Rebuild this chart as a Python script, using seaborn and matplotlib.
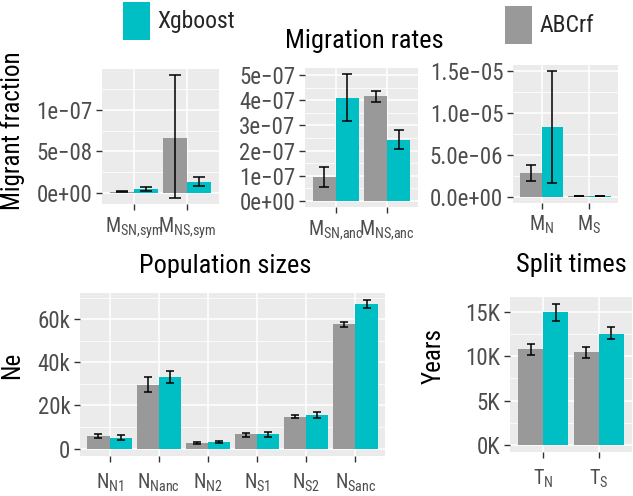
import numpy as np
import pandas as pd
import matplotlib
matplotlib.use('Agg')
import matplotlib.pyplot as plt
import seaborn as sns
from matplotlib import font_manager
from matplotlib.ticker import AutoMinorLocator, FixedLocator, FixedFormatter

sns.set_theme(style='darkgrid')

# pick a narrow sans if one is installed
fonts = font_manager.fontManager.ttflist
font_stretch = 'normal'
font_name = 'Liberation Sans'
if any(f.name == 'Liberation Sans Narrow' for f in fonts):
    font_name = 'Liberation Sans Narrow'
elif any(f.name == 'Roboto Condensed' for f in fonts):
    font_name = 'Roboto Condensed'
elif any(f.name == 'DejaVu Sans' and f.stretch == 'condensed' for f in fonts):
    font_name, font_stretch = 'DejaVu Sans', 'condensed'
elif any(f.name == 'Roboto' and f.stretch == 'condensed' for f in fonts):
    font_name, font_stretch = 'Roboto', 'condensed'
plt.rcParams['font.family'] = [font_name, 'DejaVu Sans']
plt.rcParams['font.stretch'] = font_stretch
plt.rcParams['mathtext.default'] = 'regular'

methods = ['ABCrf', 'Xgboost']
colors = {'ABCrf': '#999999', 'Xgboost': '#00BFC4'}

# --- Migration rates, symmetric ---
sym_params = [r'$M_{SN{,}sym}$', r'$M_{NS{,}sym}$']
sym_abc = [1.0e-9, 6.65e-8]
sym_abc_lo = [0.5e-9, -0.6e-8]
sym_abc_hi = [2.0e-9, 1.42e-7]
sym_xgb = [0.5e-8, 1.35e-8]
sym_xgb_lo = [0.2e-8, 0.8e-8]
sym_xgb_hi = [0.7e-8, 1.9e-8]
sym_ticks = [0, 5e-8, 1e-7]
sym_ticklabels = ['0e+00', '5e\u221208', '1e\u221207']

# --- Migration rates, ancestral ---
anc_params = [r'$M_{SN{,}anc}$', r'$M_{NS{,}anc}$']
anc_abc = [0.93e-7, 4.16e-7]
anc_abc_lo = [0.53e-7, 3.95e-7]
anc_abc_hi = [1.33e-7, 4.37e-7]
anc_xgb = [4.1e-7, 2.44e-7]
anc_xgb_lo = [3.17e-7, 2.08e-7]
anc_xgb_hi = [5.04e-7, 2.8e-7]
anc_ticks = [0, 1e-7, 2e-7, 3e-7, 4e-7, 5e-7]
anc_ticklabels = ['0e+00', '1e\u221207', '2e\u221207', '3e\u221207', '4e\u221207', '5e\u221207']

# --- Migration rates, current ---
cur_params = [r'$M_N$', r'$M_S$']
cur_abc = [2.78e-6, 0.06e-6]
cur_abc_lo = [1.83e-6, 0.04e-6]
cur_abc_hi = [3.73e-6, 0.08e-6]
cur_xgb = [8.33e-6, 0.05e-6]
cur_xgb_lo = [1.67e-6, 0.03e-6]
cur_xgb_hi = [14.96e-6, 0.07e-6]
cur_ticks = [0, 5e-6, 1e-5, 1.5e-5]
cur_ticklabels = ['0.0e+00', '5.0e\u221206', '1.0e\u221205', '1.5e\u221205']

# --- Population sizes ---
pop_params = [r'$N_{N1}$', r'$N_{Nanc}$', r'$N_{N2}$', r'$N_{S1}$', r'$N_{S2}$', r'$N_{Sanc}$']
pop_abc = [5800, 29500, 2700, 6600, 14800, 57700]
pop_abc_lo = [4700, 26100, 2200, 5500, 14100, 56600]
pop_abc_hi = [7000, 33100, 3100, 7300, 15800, 58800]
pop_xgb = [5000, 33400, 3100, 6600, 15800, 67000]
pop_xgb_lo = [3900, 30300, 2500, 5300, 14400, 65200]
pop_xgb_hi = [6100, 36200, 3750, 7700, 17000, 68750]
pop_ticks = [0, 20000, 40000, 60000]
pop_ticklabels = ['0', '20k', '40k', '60k']

# --- Split times ---
split_params = [r'$T_N$', r'$T_S$']
split_abc = [10800, 10450]
split_abc_lo = [10200, 9850]
split_abc_hi = [11400, 11000]
split_xgb = [15000, 12570]
split_xgb_lo = [14000, 11900]
split_xgb_hi = [15900, 13300]
split_ticks = [0, 5000, 10000, 15000]
split_ticklabels = ['0K', '5K', '10K', '15K']

W, H = 633, 496
fig = plt.figure(figsize=(W / 100, H / 100), dpi=100)


def px_axes(x0, y0, x1, y1):
    return fig.add_axes([x0 / W, 1 - y1 / H, (x1 - x0) / W, (y1 - y0) / H])


def panel(ax, params, abc, abc_lo, abc_hi, xgb, xgb_lo, xgb_hi, ticks, ticklabels, cap, xpad=4):
    df = pd.DataFrame({
        'param': params * 2,
        'method': ['ABCrf'] * len(params) + ['Xgboost'] * len(params),
        'value': list(abc) + list(xgb),
    })
    sns.barplot(data=df, x='param', y='value', hue='method', hue_order=methods,
                palette=colors, width=0.9, errorbar=None, saturation=1,
                linewidth=0, legend=False, ax=ax)
    errs = [(abc, abc_lo, abc_hi), (xgb, xgb_lo, xgb_hi)]
    for cont, (v, lo, hi) in zip(ax.containers, errs):
        xs = [p.get_x() + p.get_width() / 2 for p in cont]
        v = np.array(v); lo = np.array(lo); hi = np.array(hi)
        ax.errorbar(xs, v, yerr=[v - lo, hi - v], fmt='none', ecolor='black',
                    elinewidth=1.1, capsize=cap, capthick=1.1, zorder=5)
    lo_all = min(0, min(abc_lo), min(xgb_lo))
    hi_all = max(max(abc_hi), max(xgb_hi))
    pad = (hi_all - lo_all) * 0.05
    ax.set_ylim(lo_all - pad, hi_all + pad)
    ax.set_xlim(-0.6, len(params) - 0.4)
    ax.yaxis.set_major_locator(FixedLocator(ticks))
    ax.yaxis.set_major_formatter(FixedFormatter(ticklabels))
    ax.yaxis.set_minor_locator(AutoMinorLocator(2))
    ax.set_facecolor('#EBEBEB')
    ax.grid(which='major', color='white', lw=1.1)
    ax.grid(which='minor', axis='y', color='white', lw=0.55)
    ax.set_axisbelow(True)
    for s in ax.spines.values():
        s.set_visible(False)
    ax.tick_params(which='major', length=4, width=1, color='#333333',
                   labelcolor='#4D4D4D', labelsize=16.5, pad=3,
                   bottom=True, left=True)
    ax.tick_params(axis='x', labelsize=14.5, pad=xpad)
    ax.tick_params(which='minor', length=0)
    ax.set_xlabel('')
    ax.set_ylabel('')


ax1 = px_axes(102, 69, 219, 204)
panel(ax1, sym_params, sym_abc, sym_abc_lo, sym_abc_hi,
      sym_xgb, sym_xgb_lo, sym_xgb_hi, sym_ticks, sym_ticklabels, 4.5)
ax2 = px_axes(305, 68, 418, 207)
panel(ax2, anc_params, anc_abc, anc_abc_lo, anc_abc_hi,
      anc_xgb, anc_xgb_lo, anc_xgb_hi, anc_ticks, anc_ticklabels, 3.6)
ax3 = px_axes(513, 65, 618, 203)
panel(ax3, cur_params, cur_abc, cur_abc_lo, cur_abc_hi,
      cur_xgb, cur_xgb_lo, cur_xgb_hi, cur_ticks, cur_ticklabels, 3.6)
ax4 = px_axes(80, 293, 385, 456)
panel(ax4, pop_params, pop_abc, pop_abc_lo, pop_abc_hi,
      pop_xgb, pop_xgb_lo, pop_xgb_hi, pop_ticks, pop_ticklabels, 2.9, xpad=7.5)
ax5 = px_axes(510, 297, 632, 452)
panel(ax5, split_params, split_abc, split_abc_lo, split_abc_hi,
      split_xgb, split_xgb_lo, split_xgb_hi, split_ticks, split_ticklabels, 2.9, xpad=7.5)

# titles and axis labels
fig.text(364 / W, 1 - 41 / H, 'Migration rates', ha='center', va='center', fontsize=19, color='black')
fig.text(225 / W, 1 - 266 / H, 'Population sizes', ha='center', va='center', fontsize=19, color='black')
fig.text(571 / W, 1 - 265 / H, 'Split times', ha='center', va='center', fontsize=19, color='black')
fig.text(13 / W, 1 - 131 / H, 'Migrant fraction', rotation=90, ha='center', va='center', fontsize=18, color='black')
fig.text(12 / W, 1 - 365 / H, 'Ne', rotation=90, ha='center', va='center', fontsize=18, color='black')
fig.text(434 / W, 1 - 356 / H, 'Years', rotation=90, ha='center', va='center', fontsize=18, color='black')

# legend entries, taken from the bar containers
h_abc, h_xgb = ax1.containers[0][0], ax1.containers[1][0]
leg1 = fig.legend([h_xgb], ['Xgboost'], loc='center left', bbox_to_anchor=(123 / W, 1 - 21 / H),
                  frameon=False, fontsize=17, handlelength=1.15, handleheight=2.1,
                  handletextpad=0.3, borderaxespad=0, borderpad=0)
leg2 = fig.legend([h_abc], ['ABCrf'], loc='center left', bbox_to_anchor=(505 / W, 1 - 25 / H),
                  frameon=False, fontsize=17, handlelength=1.15, handleheight=2.1,
                  handletextpad=0.3, borderaxespad=0, borderpad=0)

fig.savefig('out.png', dpi=100, facecolor='white')
